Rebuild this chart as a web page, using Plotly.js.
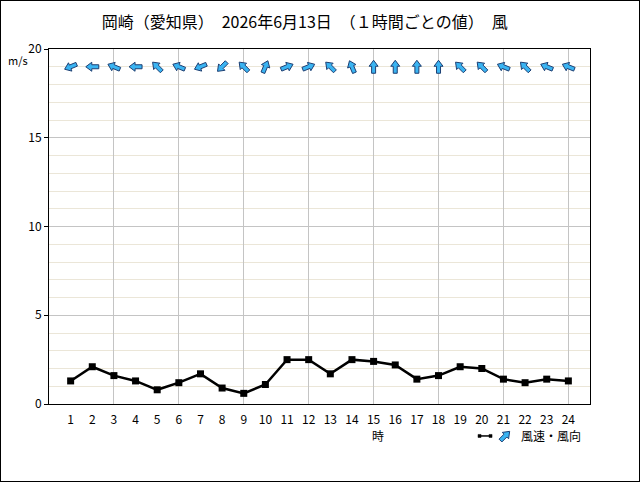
<!DOCTYPE html>
<html>
<head>
<meta charset="utf-8">
<script src="https://cdn.plot.ly/plotly-3.0.1.min.js"></script>
<style>
  html, body { margin: 0; padding: 0; background: #fff; }
  #wrap { position: relative; width: 640px; height: 482px; }
  #chart { width: 640px; height: 482px; }
  #frame { position: absolute; left: 0; top: 0; width: 638px; height: 480px; border: 1px solid #000; pointer-events: none; }
</style>
</head>
<body>
<div id="wrap"><div id="chart"></div><div id="frame"></div></div>
<script>
// ---- data ----
const hours = [1,2,3,4,5,6,7,8,9,10,11,12,13,14,15,16,17,18,19,20,21,22,23,24];
const windSpeed = [1.3,2.1,1.6,1.3,0.8,1.2,1.7,0.9,0.6,1.1,2.5,2.5,1.7,2.5,2.4,2.2,1.4,1.6,2.1,2.0,1.4,1.2,1.4,1.3];
// direction the wind blows FROM (16-point compass)
const windFrom = ['東北東','東','東南東','東','南東','東南東','東北東','北東','南東','南南西','西南西','西南西','南東',
                  '南南東','南','南','南','南','南東','南東','東南東','南東','東南東','東南東'];
const arrowRowValue = 19;
const xTickLabels = hours.map(String);
const gridHours = [3,6,9,12,15,18,21,24];
const titleText = '岡崎（愛知県）　2026年6月13日　（１時間ごとの値）　風';

const compass16 = ['北','北北東','北東','東北東','東','東南東','南東','南南東','南','南南西','南西','西南西','西','西北西','北西','北北西'];

// ---- glyph (block arrow pointing north, pixel units, y up) ----
const glyph = [[0,6.5],[4.5,0.5],[2,0.5],[2,-6.5],[-2,-6.5],[-2,0.5],[-4.5,0.5]];
function arrowPath(deg) {
  const t = deg * Math.PI / 180, c = Math.cos(t), s = Math.sin(t);
  return glyph.map((p, i) => {
    const x = p[0]*c + p[1]*s;
    const y = -p[0]*s + p[1]*c;
    return (i ? 'L' : 'M') + x.toFixed(2) + ',' + y.toFixed(2);
  }).join(' ') + ' Z';
}
const arrowFill = '#3ab4f2', arrowLine = '#1d3f73';

const shapes = hours.map((h, i) => {
  const fromDeg = compass16.indexOf(windFrom[i]) * 22.5;
  return {
    type: 'path', xref: 'x', yref: 'y', xsizemode: 'pixel', ysizemode: 'pixel',
    xanchor: h, yanchor: arrowRowValue, path: arrowPath((fromDeg + 180) % 360),
    fillcolor: arrowFill, line: {color: arrowLine, width: 1}, layer: 'above'
  };
});
// legend glyphs
const legY = -0.09;
shapes.push({type: 'path', xref: 'paper', yref: 'paper', xsizemode: 'pixel', ysizemode: 'pixel',
  xanchor: 0.843, yanchor: legY, path: arrowPath(45), fillcolor: arrowFill, line: {color: arrowLine, width: 1}});
shapes.push({type: 'path', xref: 'paper', yref: 'paper', xsizemode: 'pixel', ysizemode: 'pixel',
  xanchor: 0.806, yanchor: legY, path: 'M-6,0 L6,0', line: {color: '#000', width: 1.5}});
shapes.push({type: 'path', xref: 'paper', yref: 'paper', xsizemode: 'pixel', ysizemode: 'pixel',
  xanchor: 0.806, yanchor: legY, path: 'M-7,-1.5 L-4,-1.5 L-4,1.5 L-7,1.5 Z M4,-1.5 L7,-1.5 L7,1.5 L4,1.5 Z',
  fillcolor: '#000', line: {color: '#000', width: 0.5}});

const font = 'Noto Sans CJK JP, sans-serif';

const traces = [{
  x: hours, y: windSpeed, type: 'scatter', mode: 'lines+markers',
  line: {color: '#000', width: 2.5},
  marker: {symbol: 'square', size: 7, color: '#000'},
  showlegend: false, hoverinfo: 'skip'
}, {
  x: gridHours, y: gridHours.map(() => null), xaxis: 'x2', yaxis: 'y',
  type: 'scatter', mode: 'lines', showlegend: false, hoverinfo: 'skip'
}];

const layout = {
  width: 640, height: 482,
  margin: {l: 49, r: 50, t: 49, b: 78},
  paper_bgcolor: '#fff', plot_bgcolor: '#fff',
  font: {family: font, size: 12, color: '#000'},
  title: {text: titleText, x: 0.476, xanchor: 'center', y: 0.954, yanchor: 'middle', font: {family: font, size: 16, color: '#000'}},
  showlegend: false,
  xaxis: {
    range: [0, 25], tickmode: 'array', tickvals: hours, ticktext: xTickLabels,
    showgrid: false, zeroline: false, ticks: '', showline: true, linecolor: '#000', linewidth: 1, mirror: true,
    ticklabelstandoff: 5, tickfont: {size: 12}, fixedrange: true
  },
  xaxis2: {
    overlaying: 'x', range: [0, 25], tickmode: 'array', tickvals: gridHours,
    showticklabels: false, ticks: '', showgrid: true, gridcolor: '#c4c4c4', gridwidth: 1, zeroline: false, showline: false
  },
  yaxis: {
    range: [0, 20], tickmode: 'linear', tick0: 0, dtick: 5,
    ticks: 'outside', ticklen: 4, tickcolor: '#000',
    showgrid: true, gridcolor: '#c4c4c4', zeroline: false,
    showline: true, linecolor: '#000', linewidth: 1, mirror: true,
    minor: {tickmode: 'linear', tick0: 0, dtick: 1, showgrid: true, gridcolor: '#ebe6d8', ticks: ''},
    tickfont: {size: 12}, fixedrange: true
  },
  shapes: shapes,
  annotations: [
    {text: 'm/s', xref: 'paper', yref: 'paper', x: -0.057, y: 0.969, xanchor: 'center', yanchor: 'middle', showarrow: false, font: {size: 11}},
    {text: '時', xref: 'paper', yref: 'paper', x: 0.608, y: legY, xanchor: 'center', yanchor: 'middle', showarrow: false, font: {size: 12}},
    {text: '風速・風向', xref: 'paper', yref: 'paper', x: 0.868, y: legY, xanchor: 'left', yanchor: 'middle', showarrow: false, font: {size: 12}}
  ]
};

Plotly.newPlot('chart', traces, layout, {displayModeBar: false, staticPlot: true});
</script>
</body>
</html>
